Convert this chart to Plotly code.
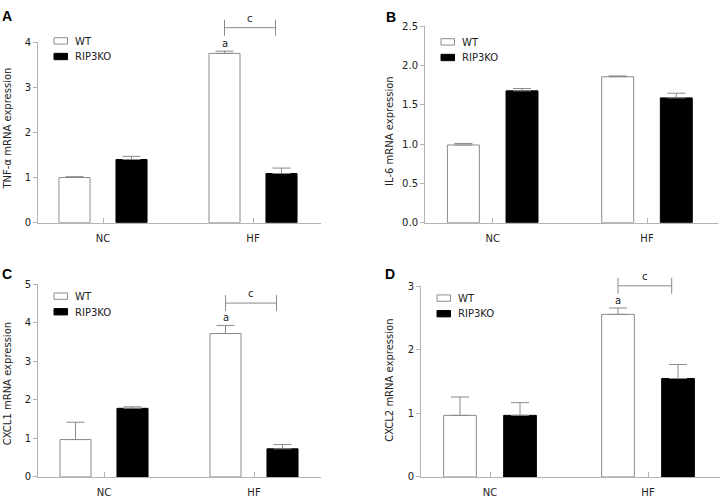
import plotly.graph_objects as go

# ---------------- data ----------------
categories = ["NC", "HF"]
series_names = ["WT", "RIP3KO"]

tnf_wt = [1.00, 3.75]
tnf_wt_err = [0.02, 0.05]
tnf_ko = [1.40, 1.09]
tnf_ko_err = [0.07, 0.12]

il6_wt = [0.99, 1.86]
il6_wt_err = [0.02, 0.01]
il6_ko = [1.68, 1.59]
il6_ko_err = [0.03, 0.06]

cxcl1_wt = [0.97, 3.72]
cxcl1_wt_err = [0.45, 0.21]
cxcl1_ko = [1.78, 0.73]
cxcl1_ko_err = [0.04, 0.11]

cxcl2_wt = [0.97, 2.56]
cxcl2_wt_err = [0.29, 0.10]
cxcl2_ko = [0.97, 1.55]
cxcl2_ko_err = [0.20, 0.22]

y_titles = ["TNF-\u03b1 mRNA expression", "IL-6 mRNA expression",
            "CXCL1 mRNA expression", "CXCL2 mRNA expression"]
panel_letters = ["A", "B", "C", "D"]
y_max = [4, 2.5, 5, 3]
y_dtick = [1, 0.5, 1, 1]
# significance bracket level (data units), None = no bracket
sig_level = [4.32, None, 4.51, 3.01]
sig_a = [True, False, True, True]

# ---------------- layout geometry (pixels) ----------------
W, H = 721, 502
def fx(p):
    return p / W
def fy(p):
    return 1 - p / H

# per panel: x-axis left, x-axis right, y top, y bottom, NC tick px, HF tick px
geom = [
    dict(x0=38, x1=321, yt=37, yb=222, nc=103, hf=253, leg_top=32.5, title=(7.5, 126), letter=(0, 0)),
    dict(x0=425, x1=718, yt=21, yb=222, nc=492.7, hf=647, leg_top=33.5, title=(390, 128), letter=(384, 1)),
    dict(x0=38, x1=321, yt=285, yb=482.5, nc=104, hf=254, leg_top=294, title=(7.5, 387), letter=(0, 264)),
    dict(x0=421, x1=720, yt=287.3, yb=482.5, nc=490, hf=648, leg_top=296, title=(390, 384), letter=(383, 264)),
]

wt_vals = [tnf_wt, il6_wt, cxcl1_wt, cxcl2_wt]
wt_errs = [tnf_wt_err, il6_wt_err, cxcl1_wt_err, cxcl2_wt_err]
ko_vals = [tnf_ko, il6_ko, cxcl1_ko, cxcl2_ko]
ko_errs = [tnf_ko_err, il6_ko_err, cxcl1_ko_err, cxcl2_ko_err]

FONT = "DejaVu Sans"
AXIS_COLOR = "#b4b4b4"
ERR_COLOR = "#8a8a8a"
OUTLINE = "#8c8c8c"
TEXT_COLOR = "#222222"

BARGAP = 0.24
BARGROUPGAP = 0.455
wt_off = -(1 - BARGAP) / 4
ko_off = (1 - BARGAP) / 4

fig = go.Figure()
shapes = []
annotations = []
layout_axes = {}

for i in range(4):
    g = geom[i]
    sfx = "" if i == 0 else str(i + 1)
    xa, ya = "x" + sfx, "y" + sfx
    fig.add_trace(go.Bar(
        x=categories, y=wt_vals[i], name=series_names[0], xaxis=xa, yaxis=ya,
        marker=dict(color="white", line=dict(color=OUTLINE, width=1)),
        error_y=dict(type="data", symmetric=False, array=wt_errs[i], arrayminus=[0, 0],
                     color=ERR_COLOR, thickness=1, width=9),
        showlegend=False))
    fig.add_trace(go.Bar(
        x=categories, y=ko_vals[i], name=series_names[1], xaxis=xa, yaxis=ya,
        marker=dict(color="black", line=dict(color="black", width=1)),
        error_y=dict(type="data", symmetric=False, array=ko_errs[i], arrayminus=[0, 0],
                     color=ERR_COLOR, thickness=1, width=9),
        showlegend=False))

    span = g["hf"] - g["nc"]
    xr = [(g["x0"] - g["nc"]) / span, 1 + (g["x1"] - g["hf"]) / span]
    layout_axes["xaxis" + sfx] = dict(
        domain=[fx(g["x0"]), fx(g["x1"])], anchor=ya, range=xr, type="category",
        showline=True, linecolor=AXIS_COLOR, linewidth=1,
        ticks="inside", ticklen=5, tickcolor=AXIS_COLOR, tickwidth=1,
        ticklabelstandoff=6,
        tickfont=dict(family=FONT, size=10, color=TEXT_COLOR),
        showgrid=False, zeroline=False, fixedrange=True)
    layout_axes["yaxis" + sfx] = dict(
        domain=[fy(g["yb"]), fy(g["yt"])], anchor=xa, range=[0, y_max[i]],
        dtick=y_dtick[i], tick0=0, tickformat=".1f" if y_dtick[i] < 1 else "d",
        showline=True, linecolor=AXIS_COLOR, linewidth=1,
        ticks="outside", ticklen=4, tickcolor=AXIS_COLOR, tickwidth=1,
        tickfont=dict(family=FONT, size=10, color=TEXT_COLOR),
        showgrid=False, zeroline=False, fixedrange=True)

    # axis title
    annotations.append(dict(
        text=y_titles[i], x=fx(g["title"][0]), y=fy(g["title"][1]), xref="paper", yref="paper",
        textangle=-90, showarrow=False, xanchor="center", yanchor="middle",
        font=dict(family=FONT, size=10, color=TEXT_COLOR)))
    # panel letter
    annotations.append(dict(
        text="<b>%s</b>" % panel_letters[i], x=fx(g["letter"][0]), y=fy(g["letter"][1]),
        xref="paper", yref="paper", showarrow=False, xanchor="left", yanchor="top",
        font=dict(family="Liberation Sans", size=14, color="black")))

    # manual legend
    lx = g["x0"] + 16
    for j, (nm, fill, line) in enumerate([(series_names[0], "white", OUTLINE),
                                           (series_names[1], "black", "black")]):
        top = g["leg_top"] + 16 * j
        shapes.append(dict(type="rect", xref="paper", yref="paper",
                           x0=fx(lx), x1=fx(lx + 13.5), y0=fy(top + 6.5), y1=fy(top),
                           fillcolor=fill, line=dict(color=line, width=1)))
        annotations.append(dict(
            text=nm, x=fx(lx + 19), y=fy(top + 3.5), xref="paper", yref="paper",
            showarrow=False, xanchor="left", yanchor="middle",
            font=dict(family=FONT, size=10, color=TEXT_COLOR)))

    # significance marks
    ydref = ya + " domain"
    hf_idx = categories.index("HF")
    xl = hf_idx + wt_off
    xrb = hf_idx + ko_off - 0.04
    if sig_a[i]:
        top_val = wt_vals[i][hf_idx] + wt_errs[i][hf_idx]
        annotations.append(dict(
            text="a", x=xl, y=top_val / y_max[i], xref=xa, yref=ydref,
            showarrow=False, xanchor="center", yanchor="bottom", yshift=0,
            font=dict(family=FONT, size=10, color=TEXT_COLOR)))
    if sig_level[i] is not None:
        lvl = sig_level[i] / y_max[i]
        shapes.append(dict(type="line", xref=xa, yref=ydref, x0=xl, x1=xrb, y0=lvl, y1=lvl,
                           line=dict(color=ERR_COLOR, width=1)))
        for xv in (xl, xrb):
            shapes.append(dict(type="line", xref=xa, yref=ydref, x0=xv, x1=xv,
                               ysizemode="pixel", yanchor=lvl, y0=-8, y1=8,
                               line=dict(color=ERR_COLOR, width=1)))
        annotations.append(dict(
            text="c", x=(xl + xrb) / 2, y=lvl, xref=xa, yref=ydref,
            showarrow=False, xanchor="center", yanchor="bottom", yshift=2,
            font=dict(family=FONT, size=10, color=TEXT_COLOR)))

fig.update_layout(
    width=W, height=H, margin=dict(l=0, r=0, t=0, b=0),
    paper_bgcolor="white", plot_bgcolor="white",
    barmode="group", bargap=BARGAP, bargroupgap=BARGROUPGAP,
    shapes=shapes, annotations=annotations, showlegend=False,
    **layout_axes)

fig.write_html("out.html", config={"displayModeBar": False},
               post_script="document.body.style.margin='0';document.body.style.overflow='hidden';")
